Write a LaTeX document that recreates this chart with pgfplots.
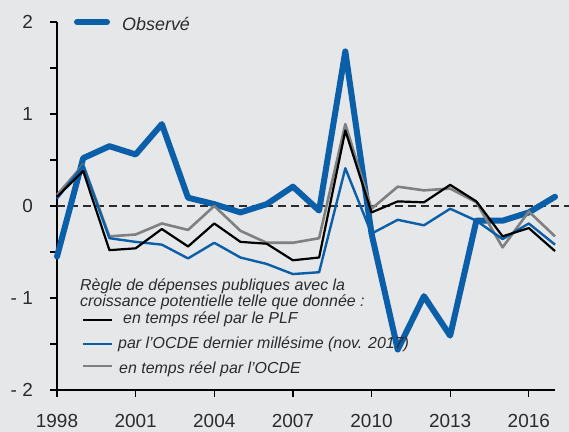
\documentclass[border=0pt]{standalone}
\usepackage{pgfplots}
\pgfplotsset{compat=1.18}
\usepackage{pgfplotstable}
\usepackage{fontspec}
\setmainfont{Liberation Sans}
\definecolor{bgc}{HTML}{E6E7E9}
\definecolor{obs}{HTML}{0B5FA8}
\definecolor{gry}{HTML}{808080}
\definecolor{txt}{HTML}{2B2B2B}

\pgfplotstableread{
year obs plf ocdelast ocdert
1998 -0.55 0.10 0.08 0.12
1999 0.52 0.38 0.44 0.45
2000 0.65 -0.48 -0.35 -0.33
2001 0.56 -0.46 -0.39 -0.31
2002 0.89 -0.25 -0.42 -0.19
2003 0.09 -0.44 -0.57 -0.26
2004 0.02 -0.19 -0.40 0.00
2005 -0.07 -0.39 -0.56 -0.27
2006 0.02 -0.41 -0.63 -0.40
2007 0.21 -0.59 -0.74 -0.40
2008 -0.05 -0.56 -0.72 -0.35
2009 1.68 0.82 0.41 0.89
2010 -0.30 -0.07 -0.30 -0.03
2011 -1.56 0.05 -0.15 0.21
2012 -0.98 0.04 -0.21 0.17
2013 -1.41 0.23 -0.03 0.19
2014 -0.16 0.05 -0.16 0.04
2015 -0.16 -0.33 -0.36 -0.45
2016 -0.07 -0.24 -0.19 -0.06
2017 0.10 -0.49 -0.42 -0.33
}\data

\begin{document}
\begin{tikzpicture}
\useasboundingbox (0bp,0bp) rectangle (569bp,432bp);
\fill[bgc] (0bp,0bp) rectangle (569bp,432bp);
% axis lines and ticks (drawn before the axis)
\draw[draw=black, line width=1.3bp] (57bp,410bp) -- (57bp,42bp) -- (555bp,42bp);
\foreach \yy in {42,88,134,180,226,272,318,364,410} \draw[draw=black, line width=1.3bp] (57bp,\yy bp) -- (50bp,\yy bp);
\foreach \i in {0,3,6,9,12,15,18} \draw[draw=black, line width=1.3bp] ({(57+\i*498/19)*1bp},42bp) -- ({(57+\i*498/19)*1bp},35bp);
\begin{axis}[
  at={(57bp,42bp)}, anchor=south west,
  scale only axis, width=498bp, height=368bp,
  xmin=1998, xmax=2017, ymin=-2, ymax=2,
  clip=false,
  axis x line=bottom, axis y line=left,
  axis line style={draw=none},
  tick align=outside,
  tick style={draw=none},
  major tick length=7bp,
  xtick={1998,2001,2004,2007,2010,2013,2016},
  xticklabels={1998,2001,2004,2007,2010,2013,2016},
  ytick={-2,-1,0,1,2},
  yticklabels={- 2,- 1,0,1,2},
  xticklabel style={font=\fontsize{19}{19}\selectfont, text=txt, inner sep=0pt, anchor=north, yshift=-17bp},
  yticklabel style={font=\fontsize{19}{19}\selectfont, text=txt, inner sep=0pt, anchor=east, xshift=-17bp},
]
\draw[line width=1.3bp, txt, dash pattern=on 8bp off 5bp] (axis cs:1998,0) -- (axis cs:2017.55,0);
\addplot[obs, line width=6bp, line cap=round, line join=round] table[x=year,y=obs]{\data};
\addplot[gry, line width=2.6bp, line join=round] table[x=year,y=ocdert]{\data};
\addplot[obs, line width=2.4bp, line join=round] table[x=year,y=ocdelast]{\data};
\addplot[black, line width=2.2bp, line join=round] table[x=year,y=plf]{\data};
\end{axis}
% legends
\draw[obs, line width=6bp, line cap=round] (77bp,410bp) -- (107bp,410bp);
\node[anchor=base west, inner sep=0pt, text=txt, font=\fontsize{18}{18}\selectfont\itshape] at (122bp,401bp) {Observé};
\node[anchor=base west, inner sep=0pt, text=txt, font=\fontsize{16}{16}\selectfont\itshape] at (80bp,141bp) {Règle de dépenses publiques avec la};
\node[anchor=base west, inner sep=0pt, text=txt, font=\fontsize{16}{16}\selectfont\itshape] at (80bp,125bp) {croissance potentielle telle que donnée :};
\draw[black, line width=2.6bp] (83bp,112bp) -- (112bp,112bp);
\node[anchor=base west, inner sep=0pt, text=txt, font=\fontsize{16}{16}\selectfont\itshape] at (123bp,108bp) {en temps réel par le PLF};
\draw[obs, line width=2.6bp] (83bp,88bp) -- (112bp,88bp);
\node[anchor=base west, inner sep=0pt, text=txt, font=\fontsize{16}{16}\selectfont\itshape] at (118bp,83bp) {par l’OCDE dernier millésime (nov. 2017)};
\draw[gry, line width=2.6bp] (83bp,66bp) -- (112bp,66bp);
\node[anchor=base west, inner sep=0pt, text=txt, font=\fontsize{16}{16}\selectfont\itshape] at (119bp,58bp) {en temps réel par l’OCDE};
\end{tikzpicture}
\end{document}
